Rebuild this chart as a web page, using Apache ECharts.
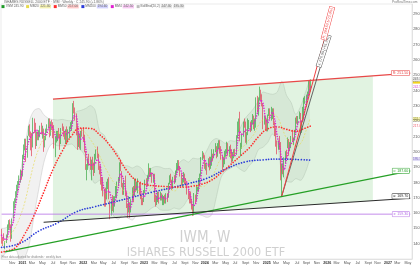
<!DOCTYPE html>
<html>
<head>
<meta charset="utf-8">
<script src="https://cdn.jsdelivr.net/npm/echarts@6/dist/echarts.min.js"></script>
<style>
html,body{margin:0;padding:0;background:#fff;}
#chart{width:420px;height:265px;}
</style>
</head>
<body>
<div id="chart"></div>
<script>
// ---------------- data ----------------
const startWeek = '2020-08-31';
const weekCount = 352;
const monthNames = ['Jan','Feb','Mar','Apr','May','Jun','Jul','Aug','Sept','Oct','Nov','Dec'];
const yMin = 130, yMax = 296.6, yStep = 10;

const opens = [
148.5,142.2,143.7,139.9,141.3,145.1,152.6,153.5,151.7,144.1,
163.0,165.8,167.7,172.4,178.0,179.0,184.6,186.5,186.8,197.2,
202.9,206.7,197.2,211.4,217.1,210.5,210.5,207.6,219.9,217.1,
207.6,212.4,210.5,213.3,215.2,214.2,214.2,206.7,208.6,215.2,
217.1,220.9,212.4,219.9,217.5,215.6,200.3,209.9,210.8,211.8,
210.8,206.1,215.6,214.7,211.8,207.0,213.7,211.8,211.8,216.6,
218.5,219.4,231.8,227.1,223.2,215.6,206.1,209.9,203.2,213.7,
215.0,207.4,199.7,186.2,190.1,193.9,192.0,189.1,192.0,190.1,
187.2,197.8,199.7,197.8,189.1,187.2,178.6,175.7,174.7,170.9,
169.9,179.5,180.5,167.0,162.2,168.0,164.2,170.0,171.0,173.9,
180.6,183.5,192.2,185.5,177.7,173.9,181.6,171.0,162.3,160.4,
163.3,164.2,169.1,175.8,172.9,180.6,176.8,178.7,178.7,172.9,
170.0,169.1,171.1,174.0,180.8,179.8,183.7,187.6,185.7,185.7,
182.7,184.7,167.2,167.2,169.1,173.0,169.1,172.0,170.1,170.1,
170.1,167.2,172.0,172.0,179.8,183.7,180.8,176.9,183.9,181.9,
186.8,191.7,193.6,189.7,184.8,179.0,180.9,184.8,180.9,179.0,
173.1,172.1,170.2,167.2,163.3,159.4,171.2,169.2,176.0,176.0,
180.9,184.8,195.6,197.6,196.8,189.9,189.9,190.9,193.8,190.9,
196.8,196.8,196.8,200.7,200.7,197.8,202.7,206.6,200.7,196.8,
190.9,195.8,198.8,199.8,204.7,201.7,203.7,196.8,194.8,197.8,
201.0,199.0,209.9,214.8,220.8,201.0,203.9,210.9,219.8,218.8,
206.9,211.9,217.8,218.8,216.8,219.8,222.8,216.8,217.8,234.6,
226.7,234.6,239.6,235.6,230.7,218.8,220.8,220.4,215.4,224.4,
225.4,222.4,223.4,227.4,218.4,214.4,206.4,202.4,205.4,199.4,
177.4,188.4,185.4,195.4,198.4,203.4,207.4,202.4,204.4,209.4,
206.4,208.4,213.4,220.4,220.4,222.4,223.4,213.4,220.4,226.4,
234.4,231.4,236.4,238.4,245.4,241.4
];
const highs = [
149.7,144.1,146.8,141.6,146.0,152.6,155.4,155.9,152.6,156.4,
167.7,169.6,174.3,178.5,180.9,184.6,188.4,187.9,198.1,204.8,
208.6,208.6,210.5,217.1,218.0,213.3,212.4,222.3,221.8,219.0,
213.3,213.3,214.2,217.1,219.0,217.1,215.2,210.5,215.2,218.0,
221.8,221.8,219.9,220.9,219.4,217.5,209.9,213.7,213.7,215.6,
211.8,215.6,218.5,216.6,213.7,214.7,216.6,214.7,216.6,219.4,
220.4,231.8,233.3,229.0,225.1,217.5,212.7,211.8,213.7,215.6,
216.0,211.2,200.6,192.0,195.8,198.7,196.8,194.9,196.8,193.0,
198.7,201.6,203.5,198.7,191.0,191.0,183.4,183.4,175.7,176.6,
180.5,182.4,183.4,168.0,168.0,171.8,171.0,171.0,177.7,180.6,
183.5,193.2,195.1,187.4,179.7,181.6,184.5,173.9,166.2,171.0,
167.1,169.1,176.8,177.7,182.6,182.6,180.6,182.6,179.7,180.6,
172.0,170.0,175.0,181.8,182.7,184.7,192.5,189.5,189.5,186.6,
185.7,185.7,172.0,171.1,174.0,174.0,174.0,173.0,172.0,171.1,
172.0,173.0,173.0,179.8,184.7,185.7,181.8,183.7,184.8,187.8,
192.7,194.6,194.6,190.7,185.8,182.9,186.8,185.8,182.9,180.0,
175.1,173.1,174.1,169.2,165.3,173.1,172.1,178.0,177.0,182.9,
185.8,196.6,200.5,199.5,197.8,192.9,191.9,195.8,196.8,196.8,
201.7,198.8,201.7,205.7,203.7,205.7,207.6,207.6,203.7,197.8,
196.8,200.7,201.7,206.6,205.7,203.7,204.7,201.7,199.8,201.7,
202.0,210.9,219.8,221.8,226.2,205.9,211.9,219.8,221.8,219.8,
212.9,221.8,220.8,219.8,220.8,224.7,223.7,221.8,235.6,236.6,
235.6,242.6,240.6,237.6,231.7,223.7,222.8,221.4,224.4,228.4,
228.4,229.4,228.4,228.4,219.4,215.4,207.4,207.4,210.4,206.4,
192.4,191.4,196.4,200.4,201.4,209.4,208.4,206.4,210.4,214.4,
209.4,214.4,222.4,223.4,223.4,226.4,225.4,220.4,229.4,235.4,
236.4,237.4,239.4,246.4,246.4,247.4
];
const lows = [
140.0,138.5,141.8,136.4,140.4,144.1,148.8,149.8,141.3,143.2,
156.4,163.0,166.7,170.5,174.3,178.0,179.9,181.8,183.9,195.3,
201.0,193.4,196.2,210.5,209.5,201.0,197.2,202.9,212.4,201.9,
203.8,207.6,207.6,209.5,211.4,208.6,200.0,202.9,207.6,212.4,
215.2,209.5,210.5,214.2,208.9,202.2,196.5,206.1,207.0,208.9,
201.3,205.1,213.7,209.9,208.0,205.1,205.1,206.1,208.9,214.7,
213.7,218.5,225.1,220.4,210.8,201.3,203.2,202.2,201.3,209.9,
206.4,199.7,188.2,181.4,188.2,191.0,188.2,181.4,188.2,184.3,
186.2,194.9,195.8,188.2,185.3,178.6,174.7,170.9,164.2,164.2,
169.0,175.7,169.0,156.0,158.4,161.3,160.4,164.2,170.0,170.0,
177.7,180.6,187.4,176.8,171.9,171.9,171.0,163.3,157.0,160.4,
157.0,160.4,168.1,167.1,171.0,173.9,174.8,172.9,172.0,169.1,
165.2,165.2,167.2,173.0,176.9,177.9,181.8,183.7,183.7,179.8,
179.8,167.2,164.3,165.2,167.2,166.2,168.2,168.2,165.2,165.2,
166.2,166.2,167.2,170.1,178.8,179.8,175.0,175.9,179.0,180.0,
185.8,187.8,187.8,183.9,178.0,177.0,180.0,179.0,178.0,172.1,
169.2,166.3,166.3,162.3,158.1,158.4,166.3,168.2,174.1,174.1,
179.0,183.9,194.6,195.6,188.9,187.9,185.0,189.9,187.9,188.9,
190.9,193.8,195.8,199.8,195.8,196.8,201.7,198.8,194.8,187.9,
189.9,191.9,196.8,198.8,197.8,196.8,195.8,192.9,193.8,195.8,
197.0,198.0,208.9,212.9,206.9,197.0,202.0,209.9,215.8,205.9,
204.9,210.9,214.8,212.9,213.8,217.8,214.8,213.8,215.8,225.7,
223.7,233.6,233.6,229.7,214.8,217.8,214.8,213.4,213.4,223.4,
221.4,220.4,221.4,217.4,210.4,203.4,198.4,201.4,201.4,181.4,
171.2,185.4,183.4,192.4,195.4,202.4,197.4,200.4,202.4,206.4,
204.4,207.4,212.4,218.4,217.4,221.4,211.4,212.4,219.4,221.4,
231.4,229.4,234.4,236.4,239.4,239.4
];
const closes = [
143.9,141.9,142.9,140.0,144.6,152.2,153.1,153.4,142.8,155.1,
166.0,166.4,172.9,178.0,178.5,184.2,186.0,184.7,196.7,201.9,
206.2,195.8,210.5,216.1,211.4,208.1,207.6,219.9,217.1,208.1,
212.4,209.5,213.3,214.2,213.3,214.2,207.6,207.6,213.8,217.1,
220.9,211.4,219.9,216.1,214.7,203.2,209.4,209.9,211.8,210.8,
205.1,215.6,214.7,210.8,211.3,212.7,211.8,211.8,215.6,217.5,
218.5,230.9,227.1,222.3,212.7,205.1,209.9,205.1,212.7,211.8,
207.4,201.6,188.6,189.1,193.9,192.0,190.1,193.0,191.0,186.2,
197.8,198.7,197.8,189.1,187.2,179.0,175.7,174.7,170.9,169.0,
179.5,180.0,169.4,160.3,167.5,164.2,170.0,170.5,173.9,180.6,
182.6,192.7,187.9,177.7,173.9,180.6,172.0,163.7,159.4,164.2,
163.3,168.6,175.8,172.0,180.6,176.8,178.7,179.7,172.9,170.0,
169.1,168.6,174.0,180.8,178.8,184.2,188.6,184.7,187.6,181.8,
184.7,168.2,166.2,168.2,173.0,169.1,172.0,170.1,170.1,170.1,
167.2,172.0,171.1,179.8,183.7,181.8,176.4,183.2,180.9,187.3,
190.7,193.6,189.7,185.8,179.0,180.4,184.8,180.0,179.5,173.1,
172.1,170.2,167.2,163.3,158.9,172.1,168.2,176.0,176.0,181.9,
184.8,195.6,197.6,196.3,189.9,190.9,189.9,193.8,190.9,196.3,
197.8,196.8,200.7,200.7,197.8,202.7,206.6,199.8,195.8,189.9,
194.8,197.8,199.8,204.7,200.7,202.7,196.8,194.8,196.8,199.8,
199.0,209.9,214.8,220.8,207.9,203.9,210.9,219.8,218.8,206.9,
211.9,217.8,218.8,216.8,219.8,222.8,215.8,216.8,234.6,226.7,
233.6,239.6,235.6,230.7,219.8,220.8,217.8,214.4,223.4,227.4,
225.4,224.4,226.4,217.9,214.4,207.4,202.4,204.4,202.4,183.4,
186.4,187.4,195.4,199.4,198.4,208.4,199.4,204.4,209.4,206.4,
208.4,213.4,221.4,220.4,221.4,223.4,213.4,219.4,226.4,234.4,
234.4,236.4,237.4,245.4,241.4,245.9
];

// short moving average (magenta), read every 2 weeks
const maShort = [[0,145.5],[2,143.6],[4,142.4],[6,147.5],[8,150.4],[10,154.3],[12,165.1],[14,174.0],[16,181.7],[18,187.9],
[20,197.4],[22,203.6],[24,208.5],[26,210.8],[28,213.2],[30,214.4],[32,210.8],[34,212.6],[36,212.3],[38,210.8],
[40,214.9],[42,217.3],[44,215.5],[46,210.9],[48,208.6],[50,209.4],[52,211.6],[54,213.1],[56,211.7],[58,213.0],
[60,215.9],[62,223.5],[64,223.3],[66,212.5],[68,208.2],[70,209.3],[72,202.4],[74,193.3],[76,191.3],[78,191.5],
[80,192.0],[82,195.1],[84,193.2],[86,182.8],[88,175.1],[90,173.5],[92,174.5],[94,169.3],[96,165.5],[98,169.7],
[100,176.9],[102,186.0],[104,183.1],[106,176.1],[108,168.9],[110,162.7],[112,168.0],[114,174.3],[116,177.0],[118,177.0],
[120,172.9],[122,170.4],[124,175.6],[126,183.1],[128,186.3],[130,184.7],[132,175.2],[134,168.9],[136,170.6],[138,170.3],
[140,169.4],[142,170.1],[144,176.7],[146,180.4],[148,180.6],[150,185.5],[152,190.3],[154,187.0],[156,182.5],[158,181.2],
[160,176.2],[162,170.7],[164,164.9],[166,165.6],[168,173.1],[170,179.7],[172,190.0],[174,194.9],[176,191.8],[178,191.4],
[180,194.7],[182,197.9],[184,199.0],[186,202.0],[188,201.2],[190,195.1],[192,195.6],[194,200.8],[196,201.2],[198,197.8],
[200,197.6],[202,205.9],[204,213.4],[206,210.9],[208,213.4],[210,214.4],[212,213.9],[214,218.3],[216,218.8],[218,222.5],
[220,227.9],[222,233.9],[224,231.4],[226,222.3],[228,219.1],[230,222.7],[232,225.9],[234,220.8],[236,210.5],[238,204.2],
[240,194.2],[242,188.2],[244,195.2],[246,201.4],[248,205.4],[250,207.2],[252,212.4],[254,219.2],[256,219.7],[258,220.7],
[260,228.7],[262,235.7],[264,240.2],[265,242.5]];

// 20-week average (thin yellow), read every 4 weeks
const ma20 = [[0,139.0],[4,142.0],[8,146.0],[12,151.0],[16,158.0],[20,167.4],[24,180.6],[28,193.2],[32,202.3],[36,208.4],
[40,211.9],[44,213.3],[48,212.4],[52,212.6],[56,212.5],[60,212.7],[64,214.2],[68,214.1],[72,212.3],[76,208.2],
[80,203.4],[84,197.4],[88,190.8],[92,185.2],[96,180.1],[100,177.0],[104,175.0],[108,173.8],[112,172.5],[116,174.8],
[120,174.0],[124,172.5],[128,176.0],[132,177.4],[136,176.1],[140,175.4],[144,175.6],[148,174.5],[152,177.5],[156,179.9],
[160,181.3],[164,178.9],[168,177.4],[172,177.3],[176,179.2],[180,182.9],[184,189.7],[188,195.3],[192,196.5],[196,198.3],
[200,198.9],[204,201.8],[208,204.2],[212,207.9],[216,211.4],[220,217.5],[224,221.1],[228,222.2],[232,224.6],[236,223.0],
[240,216.2],[244,209.0],[248,206.2],[252,203.5],[256,205.4],[260,212.3],[264,221.3]];

// 50-week average (red dots)
const ma50 = [[0,134.5],[6,135.5],[12,137.5],[20,146.5],[28,158.8],[36,173.5],[44,188.5],[52,200.5],[60,210.5],[68,215.5],
[76,215.3],[84,211.2],[92,205.0],[100,196.3],[108,187.0],[116,181.0],[124,178.5],[132,177.8],[140,177.4],[148,177.0],
[156,177.0],[164,177.6],[172,179.0],[180,181.6],[188,186.3],[196,191.5],[204,197.0],[212,202.5],[220,209.8],[228,215.0],
[236,216.3],[244,214.7],[252,213.5],[260,215.5],[265,217.0]];

// 200-week average (blue dots)
const ma200 = [[0,137.6],[16,140.4],[32,148.3],[48,153.6],[64,160.8],[80,164.2],[96,167.2],[112,170.4],[128,173.5],
[144,176.3],[160,179.3],[176,182.8],[192,188.8],[208,193.3],[224,194.8],[240,195.3],[256,194.9],[265,194.6]];

// Bollinger bands (20,2)
const bbUpper = [[0,150.0],[4,150.5],[8,155.0],[12,166.0],[16,186.0],[20,203.4],[24,220.6],[28,227.2],[32,228.3],[36,224.4],
[40,221.9],[44,221.1],[48,220.8],[52,221.2],[56,220.5],[60,220.3],[64,226.2],[68,227.1],[72,228.3],[76,230.2],
[80,227.4],[84,213.4],[88,210.8],[92,204.2],[96,202.1],[100,198.0],[104,191.0],[108,190.8],[112,189.5],[116,190.8],
[120,189.0],[124,184.5],[128,189.0],[132,190.4],[136,190.1],[140,189.0],[144,189.2],[148,185.7],[152,192.5],[156,194.9],
[160,193.3],[164,195.9],[168,195.4],[172,196.3],[176,201.2],[180,206.9],[184,208.7],[188,207.3],[192,205.5],[196,207.3],
[200,206.9],[204,214.8],[208,221.2],[212,224.9],[216,228.4],[220,233.5],[224,239.1],[228,238.2],[232,237.6],[236,239.0],
[240,246.2],[244,237.0],[248,232.2],[252,224.5],[256,229.4],[260,238.3],[264,247.3]];
const bbLower = [[0,130.0],[4,134.5],[8,135.0],[12,136.0],[16,130.0],[20,131.4],[24,140.6],[28,159.2],[32,176.3],[36,192.4],
[40,201.9],[44,205.5],[48,204.0],[52,204.0],[56,204.5],[60,205.1],[64,202.2],[68,201.1],[72,196.3],[76,186.2],
[80,179.4],[84,181.4],[88,170.8],[92,166.2],[96,158.1],[100,156.0],[104,159.0],[108,156.8],[112,155.5],[116,158.8],
[120,159.0],[124,160.5],[128,163.0],[132,164.4],[136,162.1],[140,161.8],[144,162.0],[148,163.3],[152,162.5],[156,164.9],
[160,169.3],[164,161.9],[168,159.4],[172,158.3],[176,157.2],[180,158.9],[184,170.7],[188,183.3],[192,187.5],[196,189.3],
[200,190.9],[204,188.8],[208,187.2],[212,190.9],[216,194.4],[220,201.5],[224,203.1],[228,206.2],[232,211.6],[236,207.0],
[240,186.2],[244,181.0],[248,180.2],[252,182.5],[256,181.4],[260,186.3],[264,195.3]];

// drawn trend lines  [weekIndex, price]
const channelArea = [[44,234.5],[318,249.7],[318,168.1],[44,154.4]];
const redLine = [[44,234.5],[350,251.5]];
const blackLine = [[36,154.0],[350,169.7]];
const greenLine = [[3,134.6],[350,187.6]];
const purpleLine = [[0,159.3],[350,159.3]];
const steepRed = [[240,171.2],[284,294.5]];
const steepGray = [[240,171.2],[281,276.0]];

// ---------------- build ----------------
const FF = "'Liberation Sans', Arial, sans-serif";
const cats = [];
(function(){ const t0 = Date.parse(startWeek); for (let i=0;i<weekCount;i++) cats.push(new Date(t0 + i*604800000).toISOString().slice(0,10)); })();
const candleData = opens.map((o,i)=>[o, closes[i], lows[i], highs[i]]);
const bbSpan = bbUpper.map((p,i)=>[p[0], +(p[1]-bbLower[i][1]).toFixed(2)]);
const last = a => a[a.length-1];
const lastClose = last(closes);

function dots(color, width){ return {color, width, type:[0.01, width*1.6], cap:'round'}; }
function lineSeries(name, data, style, z, smooth){
  return {type:'line', name, data, symbol:'none', showSymbol:false, smooth: smooth, z, silent:true, lineStyle: style, animation:false};
}
function trend(name, pts, color, width, text, lab){
  const data = pts.map((p,i)=> i===pts.length-1 ? {value:p, label:Object.assign({show:true, formatter:text, fontSize:3.6, fontFamily:FF, color:color, backgroundColor:'#fff', borderColor:color, borderWidth:0.5, padding:[0.6,1,0.2,1], position:'left', distance:1}, lab||{})} : {value:p});
  return {type:'line', name, data, symbol:'circle', symbolSize:0.01, showSymbol:true, z:7, silent:true, animation:false,
    itemStyle:{color}, lineStyle:{color, width}, label:{show:false}};
}

const tags = [
  {v:lastClose, bg:'#f3d31a', fg:'#222'},
  {v:last(maShort)[1], bg:'#fff', fg:'#d43fd0'},
  {v:last(bbUpper)[1], bg:'#e6e6e6', fg:'#666'},
  {v:last(ma20)[1], bg:'#f3f0b0', fg:'#8a8a20'},
  {v:last(ma50)[1], bg:'#fff', fg:'#ee5566'},
  {v:last(ma200)[1], bg:'#fff', fg:'#3344dd'},
  {v:last(bbLower)[1], bg:'#e0dcf5', fg:'#7766bb'}
];

const legendRich = '{sqP|}  IWM ' + lastClose.toFixed(2) +
  '   {sqY|} MM20 {bY|' + last(ma20)[1].toFixed(2) + '}' +
  '   {sqR|} MM50 {bR|' + last(ma50)[1].toFixed(2) + '}' +
  '   {sqB|} MM200 {bB|' + last(ma200)[1].toFixed(2) + '}' +
  '   {sqM|} MM4 {bM|' + last(maShort)[1].toFixed(2) + '}' +
  '   {sqG|} BollBnd(20,2) {bG|' + last(bbUpper)[1].toFixed(2) + '} {bG|' + last(bbLower)[1].toFixed(2) + '}';

const chart = echarts.init(document.getElementById('chart'), null, {renderer:'canvas'});
chart.setOption({
  animation:false,
  backgroundColor:'#fff',
  textStyle:{fontFamily:FF},
  grid:{left:1, right:8, top:4, bottom:6, show:true, borderColor:'#d6d6d6', borderWidth:0.5, outerBoundsMode:'none', containLabel:false},
  xAxis:{type:'category', data:cats, boundaryGap:true, z:10,
    axisLine:{show:true, lineStyle:{color:'#cfcfcf', width:0.5}}, axisTick:{show:false}, splitLine:{show:false},
    axisLabel:{fontSize:3.6, color:'#555', margin:1.5, fontFamily:FF,
      interval:(idx, val)=>{ const d=new Date(val); return idx>4 && d.getUTCDate()<=7 && d.getUTCMonth()%2===0; },
      formatter:(val)=>{ const d=new Date(val); const m=d.getUTCMonth(); return m===0 ? '{y|'+d.getUTCFullYear()+'}' : monthNames[m]; },
      rich:{y:{fontSize:3.6, fontWeight:'bold', color:'#333'}}}},
  yAxis:{type:'value', position:'right', min:yMin, max:yMax, interval:yStep, z:10,
    axisLine:{show:true, lineStyle:{color:'#cfcfcf', width:0.5}}, axisTick:{show:false}, splitLine:{show:false},
    axisLabel:{fontSize:3.8, color:'#555', margin:1.2, showMinLabel:false, showMaxLabel:false, fontFamily:FF}},
  graphic:[
    {type:'text', x:4, y:0.4, z:20, style:{text:'ISHARES RUSSELL 2000 ETF · IWM · Weekly · C ' + lastClose.toFixed(2) + ' (+1.86%)', fontSize:3.3, fill:'#666', fontFamily:FF}},
    {type:'text', x:392, y:0.4, z:20, style:{text:'ProRealTime.com', fontSize:3.2, fill:'#777', fontFamily:FF}},
    {type:'text', x:1.5, y:4.8, z:20, style:{text:legendRich, fontSize:3.2, fill:'#666', fontFamily:FF,
      rich:{
        sqP:{width:3, height:3, backgroundColor:'#1e9a28'},
        sqY:{width:3, height:3, backgroundColor:'#e6d94a'},
        sqR:{width:3, height:3, backgroundColor:'#ff2d2d'},
        sqB:{width:3, height:3, backgroundColor:'#2b3bd9'},
        sqM:{width:3, height:3, backgroundColor:'#e020d0'},
        sqG:{width:3, height:3, backgroundColor:'#bdbdbd'},
        bY:{backgroundColor:'#f3f0b0', fontSize:3.2, padding:[0.3,0.8]},
        bR:{backgroundColor:'#ffc8c8', fontSize:3.2, padding:[0.3,0.8]},
        bB:{backgroundColor:'#d2d2ff', fontSize:3.2, padding:[0.3,0.8]},
        bM:{backgroundColor:'#f8c8f4', fontSize:3.2, padding:[0.3,0.8]},
        bG:{backgroundColor:'#e6e6e6', fontSize:3.2, padding:[0.3,0.8]}
      }}},
    {type:'text', x:205, y:230.5, z:0, style:{text:'IWM, W', fontSize:15, fill:'#d0d0d0', align:'center', textAlign:'center', fontFamily:"'Liberation Sans Narrow', 'DejaVu Sans Condensed', 'Liberation Sans', sans-serif"}},
    {type:'text', x:206, y:246, z:0, style:{text:'ISHARES RUSSELL 2000 ETF', fontSize:12.5, fill:'#d0d0d0', align:'center', textAlign:'center', fontFamily:"'Liberation Sans Narrow', 'DejaVu Sans Condensed', 'Liberation Sans', sans-serif"}},
    {type:'text', x:1.5, y:256.2, z:20, style:{text:'Price data adjusted for dividends · weekly bars', fontSize:2.9, fill:'#888', fontFamily:FF}}
  ],
  series:[
    {type:'line', name:'bbBase', data:bbLower, stack:'bb', symbol:'none', smooth:0.3, z:1, silent:true, lineStyle:{width:0, opacity:0}},
    {type:'line', name:'bbFill', data:bbSpan, stack:'bb', symbol:'none', smooth:0.3, z:1, silent:true, lineStyle:{width:0, opacity:0}, areaStyle:{color:'rgba(175,175,175,0.26)'}},
    lineSeries('bbUp', bbUpper, {color:'#c4c4c4', width:0.5}, 2, 0.3),
    lineSeries('bbDn', bbLower, {color:'#c4c4c4', width:0.5}, 2, 0.3),
    {type:'custom', name:'channel', z:3, silent:true, clip:true, data:[[0,0]],
      renderItem:(params, api)=>({type:'polygon', shape:{points:channelArea.map(p=>api.coord(p))}, style:{fill:'rgba(130,205,130,0.24)'}})},
    {type:'candlestick', name:'IWM', data:candleData, z:4, barMaxWidth:1.1, silent:true,
      itemStyle:{color:'#1e9a28', color0:'#e0203a', borderColor:'#1e9a28', borderColor0:'#e0203a', borderWidth:0.6}},
    lineSeries('MM20', ma20, {color:'#e6d94a', width:0.6, type:[2,1.5]}, 5, true),
    lineSeries('MM200', ma200, dots('#2b3bd9', 1.7), 5, true),
    lineSeries('MM50', ma50, dots('#ff2d2d', 1.7), 5, true),
    lineSeries('MM4', maShort, dots('#e020d0', 1.6), 6, 0.3),
    trend('purple', purpleLine, '#b46ee6', 0.8, 'x: ' + purpleLine[1][1].toFixed(2)),
    trend('green', greenLine, '#26a026', 1.2, 'c: ' + greenLine[1][1].toFixed(2)),
    trend('black', blackLine, '#2a2a2a', 1.0, 'a: ' + blackLine[1][1].toFixed(2), {offset:[0,-2]}),
    trend('red', redLine, '#e84848', 1.3, 'R: ' + redLine[1][1].toFixed(2)),
    trend('steepGray', steepGray, '#555', 0.9, 'x: ' + steepGray[1][1].toFixed(2) + ' (+61.2%)', {rotate:72, position:'left', distance:1}),
    trend('steepRed', steepRed, '#f04040', 1.0, 'R: ' + steepRed[1][1].toFixed(2) + ' (+72.0%)', {rotate:75, position:'left', distance:1}),
    {type:'custom', name:'tags', z:9, clip:false, silent:true, data:tags.map(t=>[weekCount-1, t.v]),
      renderItem:(params, api)=>{
        const t = tags[params.dataIndex];
        const pt = api.coord([weekCount-1, t.v]);
        const x = pt[0] + 1.2;
        return {type:'group', children:[
          {type:'rect', shape:{x:x, y:pt[1]-2, width:7.6, height:4}, style:{fill:t.bg}},
          {type:'text', style:{text:t.v.toFixed(2), x:x+0.4, y:pt[1], fontSize:3.2, fill:t.fg, verticalAlign:'middle', fontFamily:FF}}
        ]};
      }}
  ]
});
</script>
</body>
</html>
